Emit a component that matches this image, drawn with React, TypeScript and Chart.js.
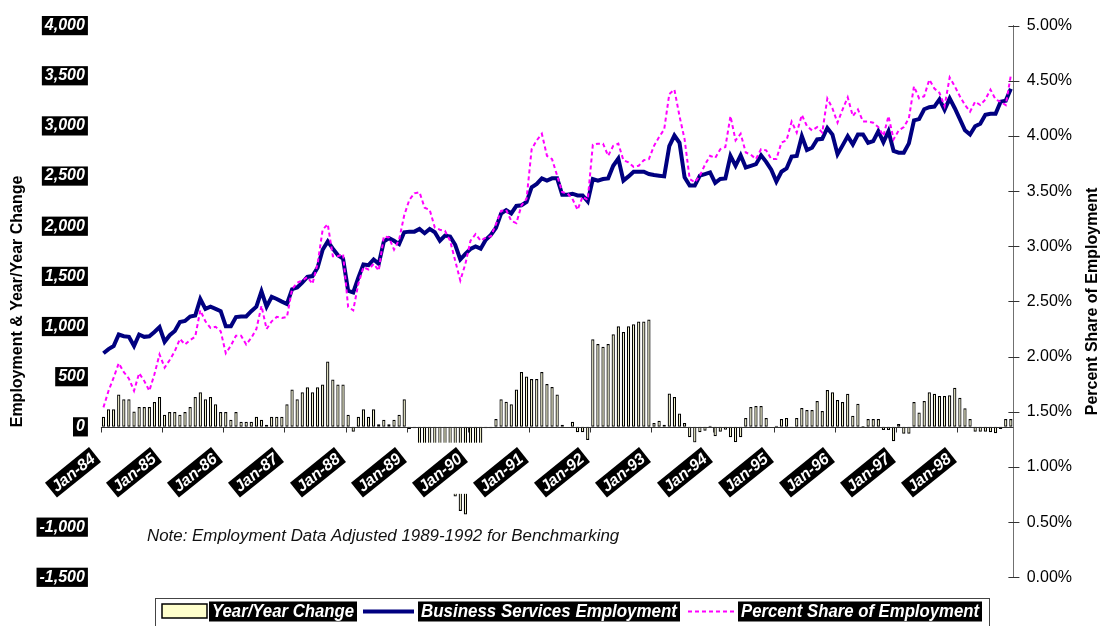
import { useEffect, useRef } from 'react';
import { Chart, registerables } from 'chart.js';

Chart.register(...registerables);

const FONT = 'Arial, "Liberation Sans", Helvetica, sans-serif';

const MONTHS = ['Jan', 'Feb', 'Mar', 'Apr', 'May', 'Jun', 'Jul', 'Aug', 'Sep', 'Oct', 'Nov', 'Dec'];
const YEARS = ['84', '85', '86', '87', '88', '89', '90', '91', '92', '93', '94', '95', '96', '97', '98'];

// Year-over-year change in business services employment (thousands), Jan-84 .. Nov-98
const yoyChange = [
  100, 175, 175, 323, 274, 274, 152, 198, 198, 198, 248, 297,
  120, 149, 149, 120, 149, 198, 297, 346, 274, 297, 225, 149,
  149, 70, 149, 51, 51, 51, 100, 70, 21, 100, 100, 100,
  225, 372, 274, 346, 395, 346, 395, 421, 651, 471, 421, 421,
  120, -48, 100, 175, 100, 175, 25, 70, 25, 70, 120, 274,
  -21, -15, -250, -320, -380, -420, -470, -530, -610, -695, -840, -875,
  -620, -450, -300, -15, -15, 77, 274, 251, 225, 372, 546, 503,
  477, 477, 546, 428, 398, 323, 21, 0, 51, -54, -54, -130,
  874, 825, 799, 825, 923, 1002, 946, 1002, 1022, 1051, 1051, 1071,
  38, 61, 21, 333, 297, 133, 38, -103, -155, -54, -38, 11,
  -93, -48, -28, -103, -153, -103, 87, 198, 208, 208, 87, 0,
  11, 77, 87, -5, 87, 189, 169, 169, 257, 159, 366, 346,
  267, 248, 329, 110, 231, 8, 77, 77, 77, -31, -31, -143,
  28, -70, -70, 248, 143, 257, 346, 329, 307, 307, 316, 389,
  290, 185, 77, -48, -48, -48, -54, -64, -21, 77, 77,
];

// Business services employment (thousands)
const bizServices = [
  733, 775, 805, 920, 903, 897, 805, 920, 897, 903, 946, 995,
  848, 913, 956, 1045, 1055, 1100, 1110, 1274, 1176, 1198, 1176, 1153,
  1002, 1002, 1094, 1100, 1100, 1153, 1198, 1350, 1198, 1297, 1274, 1248,
  1225, 1372, 1389, 1438, 1494, 1503, 1586, 1766, 1848, 1776, 1710, 1677,
  1356, 1340, 1487, 1618, 1612, 1668, 1625, 1848, 1881, 1855, 1822, 1940,
  1946, 1946, 1973, 1930, 1973, 1940, 1855, 1907, 1897, 1815, 1668, 1724,
  1773, 1799, 1776, 1864, 1914, 1985, 2127, 2160, 2127, 2202, 2209, 2241,
  2389, 2422, 2477, 2455, 2477, 2477, 2314, 2314, 2324, 2307, 2307, 2248,
  2471, 2455, 2471, 2477, 2602, 2674, 2455, 2497, 2543, 2543, 2543, 2520,
  2510, 2504, 2497, 2799, 2904, 2832, 2487, 2405, 2405, 2504, 2520, 2536,
  2432, 2471, 2477, 2701, 2602, 2707, 2586, 2602, 2619, 2707, 2642, 2563,
  2445, 2543, 2576, 2694, 2701, 2898, 2760, 2782, 2865, 2871, 2979, 2914,
  2717, 2806, 2898, 2816, 2914, 2914, 2832, 2848, 2947, 2838, 2947, 2750,
  2733, 2733, 2826, 3055, 3068, 3166, 3186, 3193, 3264, 3160, 3274, 3176,
  3068, 2957, 2914, 2996, 3022, 3111, 3121, 3121, 3242, 3252, 3370,
];

// Business services share of total employment (%)
const pctShare = [
  1.54, 1.69, 1.81, 1.94, 1.86, 1.80, 1.69, 1.85, 1.78, 1.69, 1.84, 2.02,
  1.90, 1.97, 2.05, 2.16, 2.11, 2.15, 2.18, 2.42, 2.32, 2.26, 2.27, 2.23,
  2.03, 2.10, 2.19, 2.19, 2.11, 2.17, 2.25, 2.46, 2.25, 2.32, 2.36, 2.35,
  2.36, 2.61, 2.67, 2.69, 2.72, 2.66, 2.84, 3.15, 3.20, 2.91, 2.91, 2.93,
  2.45, 2.42, 2.66, 2.81, 2.79, 2.84, 2.78, 3.09, 3.08, 2.97, 3.06, 3.28,
  3.42, 3.48, 3.49, 3.35, 3.33, 3.17, 3.15, 3.14, 3.05, 2.87, 2.69, 2.84,
  3.05, 3.11, 3.05, 3.08, 3.09, 3.20, 3.32, 3.33, 3.23, 3.21, 3.37, 3.43,
  3.88, 3.96, 4.02, 3.82, 3.79, 3.64, 3.49, 3.48, 3.43, 3.33, 3.45, 3.42,
  3.92, 3.93, 3.93, 3.82, 3.91, 3.93, 3.78, 3.76, 3.72, 3.73, 3.78, 3.79,
  3.91, 3.99, 4.06, 4.38, 4.42, 4.18, 3.97, 3.61, 3.58, 3.64, 3.74, 3.82,
  3.80, 3.88, 3.90, 4.18, 3.96, 4.02, 3.85, 3.83, 3.79, 3.88, 3.87, 3.79,
  3.79, 3.94, 3.96, 4.13, 4.03, 4.19, 4.09, 4.05, 4.08, 4.03, 4.34, 4.25,
  4.12, 4.24, 4.35, 4.18, 4.24, 4.13, 4.13, 4.12, 4.08, 4.00, 4.18, 3.97,
  4.05, 4.08, 4.16, 4.45, 4.34, 4.36, 4.51, 4.43, 4.39, 4.27, 4.53, 4.45,
  4.36, 4.28, 4.22, 4.31, 4.28, 4.33, 4.42, 4.33, 4.31, 4.28, 4.55,
];

const monthLabels = YEARS.flatMap((yr) => MONTHS.map((m) => `${m}-${yr}`)).slice(0, bizServices.length);

const LEFT_AXIS = { min: -1500, max: 4000, step: 500 };
const RIGHT_AXIS = { min: 0, max: 5, step: 0.5 };

const SERIES_NAMES = ['Year/Year Change', 'Business Services Employment', 'Percent Share of Employment'];
const LEFT_TITLE = 'Employment & Year/Year Change';
const RIGHT_TITLE = 'Percent Share of Employment';
const NOTE = 'Note: Employment Data Adjusted 1989-1992 for Benchmarking';

const NAVY = '#000080';
const MAGENTA = '#FF00FF';
const BAR_FILL = '#FFFFCC';

function blackTag(ctx: CanvasRenderingContext2D, text: string, right: number, cy: number, h: number, pad: number) {
  const w = ctx.measureText(text).width + pad * 2;
  ctx.fillStyle = '#000';
  ctx.fillRect(right - w, cy - h / 2, w, h);
  ctx.fillStyle = '#fff';
  ctx.textAlign = 'right';
  ctx.textBaseline = 'middle';
  ctx.fillText(text, right - pad, cy + 1);
}

const decorPlugin = {
  id: 'decor',
  afterDatasetsDraw(chart: any) {
    const { ctx, chartArea: ca } = chart;
    const xs = chart.scales.x;
    const ys = chart.scales.y;
    const y2 = chart.scales.y2;
    const n = chart.data.labels.length;
    const catW = (ca.right - ca.left) / n;
    const y0 = Math.round(ys.getPixelForValue(0)) + 0.5;

    ctx.save();
    // blank strip that holds the category labels
    const bandTop = ys.getPixelForValue(-158);
    const bandBot = ys.getPixelForValue(-668);
    ctx.fillStyle = '#fff';
    ctx.fillRect(30, bandTop, ca.right - 1 - 30, bandBot - bandTop);

    // category axis crossing at zero
    ctx.strokeStyle = '#333';
    ctx.lineWidth = 1;
    ctx.beginPath();
    ctx.moveTo(ca.left, y0);
    ctx.lineTo(ca.right, y0);
    ctx.stroke();

    ctx.font = `italic bold 16px ${FONT}`;
    const angle = (39 * Math.PI) / 180;
    chart.data.labels.forEach((lab: string, i: number) => {
      if (i % 12 !== 0) return;
      const bx = Math.round(xs.getPixelForValue(i) - catW / 2) + 0.5;
      ctx.strokeStyle = '#333';
      ctx.beginPath();
      ctx.moveTo(bx, y0);
      ctx.lineTo(bx, y0 + 5);
      ctx.stroke();
      ctx.save();
      ctx.translate(bx - 6.5, y0 + 27);
      ctx.rotate(-angle);
      blackTag(ctx, lab, 0, 0, 19, 3);
      ctx.restore();
    });

    // inner half of the right-axis cross ticks
    ctx.strokeStyle = '#333';
    for (let v = RIGHT_AXIS.min; v <= RIGHT_AXIS.max + 1e-9; v += RIGHT_AXIS.step) {
      const yy = Math.round(y2.getPixelForValue(v)) + 0.5;
      ctx.beginPath();
      ctx.moveTo(ca.right - 5, yy);
      ctx.lineTo(ca.right + 6, yy);
      ctx.stroke();
    }

    // right axis title, reading upward
    ctx.save();
    ctx.translate(1093, (ca.top + ca.bottom) / 2);
    ctx.rotate(-Math.PI / 2);
    ctx.font = `bold 16px ${FONT}`;
    ctx.fillStyle = '#000';
    ctx.textAlign = 'center';
    ctx.textBaseline = 'middle';
    ctx.fillText(RIGHT_TITLE, 0, 0);
    ctx.restore();

    // note
    ctx.font = `italic 16.9px ${FONT}`;
    ctx.fillStyle = '#111';
    ctx.textAlign = 'left';
    ctx.textBaseline = 'alphabetic';
    ctx.fillText(NOTE, 147, 541);
    ctx.restore();
  },
  afterDraw(chart: any) {
    const { ctx } = chart;
    ctx.save();
    // legend frame
    ctx.strokeStyle = '#444';
    ctx.lineWidth = 1;
    ctx.strokeRect(155.5, 598.5, 834, 40);

    const cy = 611.5;
    const boxH = 20;
    const tag = (text: string, left: number, right: number) => {
      ctx.fillStyle = '#000';
      ctx.fillRect(left, cy - boxH / 2, right - left, boxH);
      ctx.font = `italic bold 18px ${FONT}`;
      const w = ctx.measureText(text).width;
      const sx = (right - left - 6) / w;
      ctx.save();
      ctx.translate(left + 3, cy + 1);
      ctx.scale(sx, 1);
      ctx.fillStyle = '#fff';
      ctx.textAlign = 'left';
      ctx.textBaseline = 'middle';
      ctx.fillText(text, 0, 0);
      ctx.restore();
    };

    // bar swatch
    ctx.fillStyle = BAR_FILL;
    ctx.fillRect(162, 604, 45, 14);
    ctx.strokeStyle = '#000';
    ctx.lineWidth = 1.5;
    ctx.strokeRect(162, 604, 45, 14);
    tag(SERIES_NAMES[0], 209, 357);

    // navy line swatch
    ctx.strokeStyle = NAVY;
    ctx.lineWidth = 4;
    ctx.beginPath();
    ctx.moveTo(363, cy);
    ctx.lineTo(414, cy);
    ctx.stroke();
    tag(SERIES_NAMES[1], 418, 680);

    // magenta dashed swatch
    ctx.strokeStyle = MAGENTA;
    ctx.lineWidth = 2;
    ctx.setLineDash([4, 3]);
    ctx.beginPath();
    ctx.moveTo(688, cy);
    ctx.lineTo(735, cy);
    ctx.stroke();
    ctx.setLineDash([]);
    tag(SERIES_NAMES[2], 738, 982);
    ctx.restore();
  },
};

export default function App() {
  const canvasRef = useRef<HTMLCanvasElement | null>(null);

  useEffect(() => {
    const canvas = canvasRef.current;
    if (!canvas) return;
    const chart = new Chart(canvas, {
      type: 'bar',
      data: {
        labels: monthLabels,
        datasets: [
          {
            type: 'bar',
            label: SERIES_NAMES[0],
            data: yoyChange,
            yAxisID: 'y',
            backgroundColor: BAR_FILL,
            borderColor: '#000',
            borderWidth: 1.25,
            borderSkipped: false,
            barPercentage: 0.64,
            categoryPercentage: 1,
            order: 3,
          },
          {
            type: 'line',
            label: SERIES_NAMES[1],
            data: bizServices,
            yAxisID: 'y',
            borderColor: NAVY,
            backgroundColor: NAVY,
            borderWidth: 4,
            pointRadius: 0,
            tension: 0,
            fill: false,
            order: 2,
          },
          {
            type: 'line',
            label: SERIES_NAMES[2],
            data: pctShare,
            yAxisID: 'y2',
            borderColor: MAGENTA,
            backgroundColor: MAGENTA,
            borderWidth: 2,
            borderDash: [4, 3],
            pointRadius: 0,
            tension: 0,
            fill: false,
            order: 1,
          },
        ],
      },
      options: {
        responsive: false,
        animation: false,
        devicePixelRatio: 1,
        layout: { padding: { left: 0, right: 0, top: 18.3, bottom: 48.7 } },
        plugins: {
          legend: { display: false },
          tooltip: { enabled: false },
        },
        scales: {
          x: {
            type: 'category',
            display: false,
            offset: true,
            grid: { offset: true },
          },
          y: {
            position: 'left',
            min: LEFT_AXIS.min,
            max: LEFT_AXIS.max,
            grid: { display: false, drawTicks: false },
            border: { display: false },
            ticks: {
              stepSize: LEFT_AXIS.step,
              padding: 16,
              color: '#fff',
              font: { family: FONT, size: 16, weight: 'bold', style: 'italic' },
              showLabelBackdrop: true,
              backdropColor: '#000',
              backdropPadding: { left: 3, right: 3, top: 0, bottom: 0 },
              callback: (v: any) => Number(v).toLocaleString('en-US'),
            },
            title: {
              display: true,
              text: LEFT_TITLE,
              color: '#000',
              font: { family: FONT, size: 16, weight: 'bold' },
              padding: { top: 8.4, bottom: 0 },
            },
            afterFit: (s: any) => {
              s.width = 100.9;
            },
          },
          y2: {
            position: 'right',
            min: RIGHT_AXIS.min,
            max: RIGHT_AXIS.max,
            grid: { display: false, drawTicks: false },
            border: { display: true, color: '#707070', width: 1 },
            ticks: {
              stepSize: RIGHT_AXIS.step,
              padding: 13.3,
              color: '#000',
              font: { family: FONT, size: 16 },
              callback: (v: any) => `${Number(v).toFixed(2)}%`,
            },
            afterFit: (s: any) => {
              s.width = 1103 - 1013.4;
            },
          },
        },
      },
      plugins: [decorPlugin],
    });
    return () => chart.destroy();
  }, []);

  return (
    <div style={{ position: 'fixed', left: 0, top: 0, width: 1103, height: 626, background: '#fff' }}>
      <canvas ref={canvasRef} width={1103} height={626} />
    </div>
  );
}
